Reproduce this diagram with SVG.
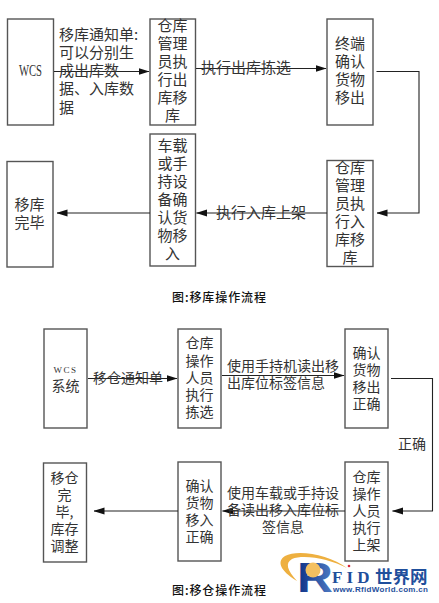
<svg xmlns="http://www.w3.org/2000/svg" width="439" height="603" viewBox="0 0 439 603">
<style>
.b{fill:#fff;stroke:#555;stroke-width:1.4}
.t{font-family:"Noto Sans CJK SC","Liberation Sans",sans-serif;font-size:15px;fill:#333;text-anchor:middle}
.s{font-size:14px}
.l{text-anchor:start}
.m{font-family:"Liberation Serif",serif}
.c{font-size:12px;fill:#111;font-weight:500}
.w{fill:none;stroke:#222;stroke-width:1.1}
.g{fill:#1f4f9c;font-weight:bold}
</style>
<defs>
<marker id="a" markerWidth="11" markerHeight="8" refX="10.500" refY="4" orient="auto" markerUnits="userSpaceOnUse"><path d="M0 .5L11 4L0 7.500Z" fill="#111"/></marker>
<linearGradient id="r" x1="0" y1="0" x2="1" y2="0"><stop offset="0" stop-color="#0d2f86"/><stop offset="1" stop-color="#4f7cc4"/></linearGradient>
</defs>
<rect width="439" height="603" fill="#fff"/>
<g id="n1"><rect class="b" x="7.500" y="19" width="46" height="106"/><text class="t m" x="30.500" y="76" style="font-size:17px" textLength="23" lengthAdjust="spacingAndGlyphs">WCS</text></g>
<g id="n2"><rect class="b" x="150" y="19" width="45.500" height="106"/><text class="t" x="172.500" y="31">仓库</text><text class="t" x="172.500" y="49">管理</text><text class="t" x="172.500" y="67">员执</text><text class="t" x="172.500" y="85">行出</text><text class="t" x="172.500" y="103">库移</text><text class="t" x="172.500" y="121">库</text></g>
<g id="n3"><rect class="b" x="327" y="19" width="46" height="106"/><text class="t" x="350" y="49">终端</text><text class="t" x="350" y="67">确认</text><text class="t" x="350" y="85">货物</text><text class="t" x="350" y="103">移出</text></g>
<g id="n4"><rect class="b" x="327" y="160.500" width="46" height="106"/><text class="t" x="350" y="173">仓库</text><text class="t" x="350" y="191">管理</text><text class="t" x="350" y="209">员执</text><text class="t" x="350" y="227">行入</text><text class="t" x="350" y="245">库移</text><text class="t" x="350" y="263">库</text></g>
<g id="n5"><rect class="b" x="150" y="134" width="45.500" height="132"/><text class="t" x="172.500" y="151">车载</text><text class="t" x="172.500" y="169">或手</text><text class="t" x="172.500" y="187">持设</text><text class="t" x="172.500" y="205">备确</text><text class="t" x="172.500" y="223">认货</text><text class="t" x="172.500" y="241">物移</text><text class="t" x="172.500" y="259">入</text></g>
<g id="n6"><rect class="b" x="7" y="161.500" width="46" height="105.500"/><text class="t" x="29.500" y="210">移库</text><text class="t" x="29.500" y="228">完毕</text></g>
<g id="n7"><rect class="b" x="44" y="329" width="43" height="99"/><text class="t m" x="65.500" y="373" style="font-size:9px;letter-spacing:1.500px">WCS</text><text class="t s" x="65.500" y="391">系统</text></g>
<g id="n8"><rect class="b" x="178" y="329" width="43" height="99"/><text class="t s" x="199.500" y="348">仓库</text><text class="t s" x="199.500" y="366">操作</text><text class="t s" x="199.500" y="383">人员</text><text class="t s" x="199.500" y="400">执行</text><text class="t s" x="199.500" y="417">拣选</text></g>
<g id="n9"><rect class="b" x="345" y="329" width="43" height="99"/><text class="t s" x="366.500" y="358">确认</text><text class="t s" x="366.500" y="375">货物</text><text class="t s" x="366.500" y="392">移出</text><text class="t s" x="366.500" y="409">正确</text></g>
<g id="n10"><rect class="b" x="345" y="462" width="43" height="99"/><text class="t s" x="366.500" y="482">仓库</text><text class="t s" x="366.500" y="499">操作</text><text class="t s" x="366.500" y="516">人员</text><text class="t s" x="366.500" y="533">执行</text><text class="t s" x="366.500" y="550">上架</text></g>
<g id="n11"><rect class="b" x="178" y="462" width="43" height="99"/><text class="t s" x="199.500" y="491">确认</text><text class="t s" x="199.500" y="508">货物</text><text class="t s" x="199.500" y="525">移入</text><text class="t s" x="199.500" y="542">正确</text></g>
<g id="n12"><rect class="b" x="43.500" y="463" width="43" height="99"/><text class="t s" x="64.500" y="483">移仓</text><text class="t s" x="64.500" y="500">完</text><text class="t s" x="64.500" y="517">毕,</text><text class="t s" x="64.500" y="534">库存</text><text class="t s" x="64.500" y="551">调整</text></g>
<g id="connectors">
<path class="w" d="M54 71.500H149" marker-end="url(#a)"/>
<path class="w" d="M196 68.500H326" marker-end="url(#a)"/>
<path class="w" d="M376.500 71.500H419V213H377" marker-end="url(#a)"/>
<path class="w" d="M327 213H196.500" marker-end="url(#a)"/>
<path class="w" d="M150 213H57" marker-end="url(#a)"/>
<path class="w" d="M88 378.500H177" marker-end="url(#a)"/>
<path class="w" d="M222 375.500H344" marker-end="url(#a)"/>
<path class="w" d="M391 378.500H432.500V511H392.500" marker-end="url(#a)"/>
<path class="w" d="M345 511H222.500" marker-end="url(#a)"/>
<path class="w" d="M178 511H94" marker-end="url(#a)"/>
</g>
<g id="labels">
<text class="t l" x="59" y="40">移库通知单:</text><text class="t l" x="59" y="58">可以分别生</text><text class="t l" x="59" y="76">成出库数</text><text class="t l" x="59" y="94">据、入库数</text><text class="t l" x="59" y="113">据</text>
<text class="t l" x="201" y="73">执行出库拣选</text>
<text class="t l" x="216" y="218">执行入库上架</text>
<text class="t s l" x="93" y="383">移仓通知单</text>
<text class="t s l" x="227" y="371">使用手持机读出移</text><text class="t s l" x="227" y="388">出库位标签信息</text>
<text class="t s" x="412" y="449">正确</text>
<text class="t s l" x="227" y="498">使用车载或手持设</text><text class="t s l" x="227" y="515">备读出移入库位标</text><text class="t s" x="283" y="532">签信息</text>
<text class="t c" x="219" y="302" textLength="94">图:移库操作流程</text>
<text class="t c" x="219" y="595" textLength="94">图:移仓操作流程</text>
</g>
<g id="logo">
<path d="M347 568C330 555 298 549 285 556C277 561 279 570 297 581C287 570 285 563 292 559C304 554 330 559 347 568Z" fill="#eeb040"/>
<text x="297" y="592" style="font-family:'Liberation Sans',sans-serif;font-size:42px;font-weight:bold;fill:url(#r)" textLength="36" lengthAdjust="spacingAndGlyphs">R</text>
<circle cx="313" cy="570" r="7.500" fill="#f4c060"/>
<text class="g" x="332" y="583" style="font-family:'Liberation Serif',serif;font-size:17px;letter-spacing:2.500px" textLength="40">FID</text>
<circle cx="349" cy="566" r="1.300" fill="#d8283a"/>
<text class="g" x="375" y="583" style="font-family:'Noto Sans CJK SC',sans-serif;font-size:17.500px">世界网</text>
<text class="g" x="333" y="592" style="font-family:'Liberation Sans',sans-serif;font-size:8px" textLength="95">www.RfidWorld.com.cn</text>
</g>
</svg>
